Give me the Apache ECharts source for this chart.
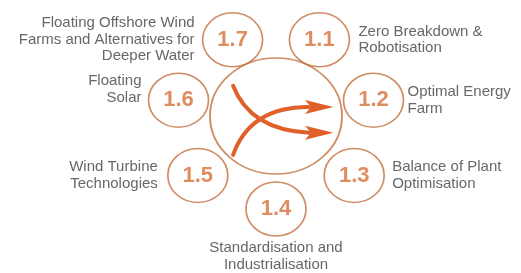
<!DOCTYPE html>
<html>
<head>
<meta charset="utf-8">
<script src="https://cdn.jsdelivr.net/npm/echarts@6/dist/echarts.min.js"></script>
<style>
  html, body { margin: 0; padding: 0; background: #fff; }
  #chart { width: 521px; height: 273px; }
</style>
</head>
<body>
<div id="chart"></div>
<script>
// theme codes and their titles, clockwise from the top right
const codes = ['1.1', '1.2', '1.3', '1.4', '1.5', '1.6', '1.7']
const titles = [
  'Zero Breakdown &\nRobotisation',
  'Optimal Energy\nFarm',
  'Balance of Plant\nOptimisation',
  'Standardisation and\nIndustrialisation',
  'Wind Turbine\nTechnologies',
  'Floating\nSolar',
  'Floating Offshore Wind\nFarms and Alternatives for\nDeeper Water'
]

const W = 521, H = 273
const CX = 276, CY = 120   // ring centre in px
const AX = 100, AY = 89    // ring radii in px (picture is a little stretched)
const SMALL = [60, 54]
const BIG = [132, 116]
const BIG_SHIFT = -4
const STROKE = '#c4703f'
const ARROW = '#e0602a'

// where each title sits around its circle
const labelPos = {
  '1.1': { position: 'right', distance: 9 },
  '1.2': { position: 'right', distance: 4 },
  '1.3': { position: 'right', distance: 8 },
  '1.4': { position: 'bottom', distance: 4 },
  '1.5': { position: 'left', distance: 10 },
  '1.6': { position: 'left', distance: 7, offset: [0, -11] },
  '1.7': { position: 'left', distance: 8 }
}

// spread the seven circles evenly round the ring, 1.4 at the bottom
const nodes = codes.map((code, i) => {
  const a = (-90 + (3 - i) * 360 / codes.length) * Math.PI / 180
  return { code, title: titles[i], value: [Math.cos(a), Math.sin(a)] }
})

const myChart = echarts.init(document.getElementById('chart'))

const option = {
  animation: false,
  grid: { left: 0, top: 0, width: W, height: H },
  xAxis: { type: 'value', min: -CX / AX, max: (W - CX) / AX, show: false },
  yAxis: { type: 'value', min: -(H - CY) / AY, max: CY / AY, show: false },
  series: [
    {
      // big hub circle
      type: 'scatter',
      symbol: 'circle',
      symbolSize: BIG,
      symbolOffset: [0, BIG_SHIFT],
      itemStyle: { color: 'rgba(255,255,255,0)', borderColor: STROKE, borderWidth: 1.8 },
      silent: true,
      data: [[0, 0]]
    },
    {
      // the converge / diverge arrows in the hub
      type: 'custom',
      silent: true,
      data: [[0, 0]],
      renderItem: function (params, api) {
        const c = api.coord([0, 0])
        const rx = BIG[0] / 2, ry = BIG[1] / 2
        const p = (x, y) => [c[0] + x * rx, c[1] + BIG_SHIFT + y * ry]
        const branch = (y0, cy, y1) => {
          const s = p(-0.65, y0), k = p(-0.39, cy), e = p(0.5, y1)
          return [
            {
              type: 'bezierCurve',
              shape: { x1: s[0], y1: s[1], cpx1: k[0], cpy1: k[1], x2: e[0], y2: e[1] },
              style: { stroke: ARROW, lineWidth: 4, fill: null, lineCap: 'round' }
            },
            {
              type: 'polygon',
              shape: { points: [p(0.87, y1), p(0.44, y1 - 0.12), p(0.53, y1), p(0.44, y1 + 0.12)] },
              style: { fill: ARROW }
            }
          ]
        }
        return {
          type: 'group',
          children: branch(-0.52, 0.24, 0.29).concat(branch(0.67, -0.16, -0.155))
        }
      }
    },
    {
      // numbered circles
      type: 'scatter',
      symbol: 'circle',
      symbolSize: SMALL,
      itemStyle: { color: 'rgba(255,255,255,0)', borderColor: STROKE, borderWidth: 1.6 },
      label: {
        show: true,
        position: 'inside',
        formatter: p => p.data.code,
        color: '#d6713a',
        fontFamily: 'Liberation Sans',
        fontWeight: 'bold',
        fontSize: 22
      },
      data: nodes
    },
    {
      // titles next to each circle
      type: 'scatter',
      symbol: 'circle',
      symbolSize: SMALL,
      itemStyle: { color: 'rgba(255,255,255,0)', borderWidth: 0 },
      silent: true,
      label: {
        show: true,
        formatter: p => p.data.title,
        color: '#404040',
        fontFamily: 'Liberation Sans',
        fontSize: 15,
        lineHeight: 16.5
      },
      data: nodes.map(n => ({ ...n, label: labelPos[n.code] }))
    }
  ]
}

myChart.setOption(option)
</script>
</body>
</html>
